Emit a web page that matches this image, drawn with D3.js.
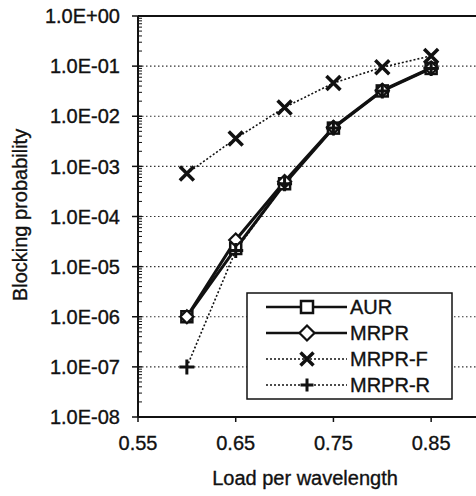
<!DOCTYPE html>
<html lang="en">
<head>
    <meta charset="UTF-8">
    <title>Blocking probability vs load</title>
    <script src="https://cdnjs.cloudflare.com/ajax/libs/d3/7.8.5/d3.min.js"></script>
    <style>
        body { margin: 0; background: #fff; }
        text { font-family: "Liberation Sans", Arial, sans-serif; fill: #111; stroke: #111; stroke-width: 0.35px; }
        .grid { stroke: #333; stroke-width: 1.2px; stroke-dasharray: 1.5,2.5; }
        .axis { stroke: #111; stroke-width: 2px; }
    </style>
</head>
<body>
    <svg width="476" height="496"></svg>
    <script>
        // data
        const loads = [0.6, 0.65, 0.7, 0.75, 0.8, 0.85];
        const aur   = [1.0e-6, 2.3e-5, 4.5e-4, 5.8e-3, 3.2e-2, 9.0e-2];
        const mrpr  = [1.0e-6, 3.4e-5, 5.0e-4, 6.0e-3, 3.3e-2, 9.2e-2];
        const mrprF = [7.2e-4, 3.6e-3, 1.5e-2, 4.6e-2, 9.5e-2, 1.6e-1];
        const mrprR = [1.0e-7, 2.1e-5, 4.5e-4, 5.8e-3, 3.2e-2, 9.0e-2];
        const seriesNames = ["AUR", "MRPR", "MRPR-F", "MRPR-R"];
        const xTicks = [0.55, 0.65, 0.75, 0.85];
        const yTicks = [1, 1e-1, 1e-2, 1e-3, 1e-4, 1e-5, 1e-6, 1e-7, 1e-8];
        const yTickLabels = ["1.0E+00", "1.0E-01", "1.0E-02", "1.0E-03", "1.0E-04",
                             "1.0E-05", "1.0E-06", "1.0E-07", "1.0E-08"];

        const svg = d3.select("svg");
        const plotLeft = 138, plotTop = 16, plotBottom = 417;

        const x = d3.scaleLinear().domain([0.55, 0.9]).range([plotLeft, 480]);
        const y = d3.scaleLog().domain([1e-8, 1]).range([plotBottom, plotTop]);

        // dotted gridlines at each decade
        svg.selectAll(".grid")
            .data(yTicks.slice(1, -1))
            .enter().append("line")
            .attr("class", "grid")
            .attr("x1", plotLeft).attr("x2", 476)
            .attr("y1", d => y(d)).attr("y2", d => y(d));

        // minor log ticks inside the left axis
        const minor = [];
        for (let e = -8; e < 0; e++) {
            for (let m = 2; m <= 9; m++) minor.push(m * Math.pow(10, e));
        }
        svg.selectAll(".minor")
            .data(minor)
            .enter().append("line")
            .attr("stroke", "#111").attr("stroke-width", 1)
            .attr("x1", plotLeft).attr("x2", plotLeft + 4)
            .attr("y1", d => y(d)).attr("y2", d => y(d));

        // major y ticks + labels
        svg.selectAll(".ymaj")
            .data(yTicks)
            .enter().append("line")
            .attr("stroke", "#111").attr("stroke-width", 1.5)
            .attr("x1", plotLeft - 6).attr("x2", plotLeft + 4)
            .attr("y1", d => y(d)).attr("y2", d => y(d));
        svg.selectAll(".ylab")
            .data(yTicks)
            .enter().append("text")
            .attr("x", 120)
            .attr("y", d => y(d))
            .attr("dy", "0.36em")
            .attr("text-anchor", "end")
            .style("font-size", "20px")
            .text((d, i) => yTickLabels[i]);

        // x ticks + labels
        svg.selectAll(".xt")
            .data(xTicks)
            .enter().append("line")
            .attr("stroke", "#111").attr("stroke-width", 1.5)
            .attr("x1", d => x(d)).attr("x2", d => x(d))
            .attr("y1", plotBottom).attr("y2", plotBottom + 5);
        svg.selectAll(".xlab")
            .data(xTicks)
            .enter().append("text")
            .attr("x", d => x(d))
            .attr("y", 450)
            .attr("text-anchor", "middle")
            .style("font-size", "20px")
            .text(d => d.toFixed(2));

        // axes frame
        svg.append("line").attr("class", "axis")
            .attr("x1", plotLeft).attr("x2", plotLeft).attr("y1", plotTop).attr("y2", plotBottom);
        svg.append("line").attr("class", "axis")
            .attr("x1", plotLeft).attr("x2", 476).attr("y1", plotBottom).attr("y2", plotBottom);
        svg.append("line").attr("class", "axis")
            .attr("x1", plotLeft).attr("x2", 476).attr("y1", plotTop).attr("y2", plotTop);

        // axis titles
        svg.append("text")
            .attr("x", 305).attr("y", 485)
            .attr("text-anchor", "middle")
            .style("font-size", "20px")
            .text("Load per wavelength");
        svg.append("text")
            .attr("transform", "translate(27,215) rotate(-90)")
            .attr("text-anchor", "middle")
            .style("font-size", "20px")
            .text("Blocking probability");

        // series
        const styles = [
            { vals: aur,   width: 3,   dash: null,  marker: "square" },
            { vals: mrpr,  width: 3,   dash: null,  marker: "diamond" },
            { vals: mrprF, width: 1.6, dash: "2,2", marker: "x" },
            { vals: mrprR, width: 1.6, dash: "2,2", marker: "plus" }
        ];

        const line = d3.line().x(d => x(d[0])).y(d => y(d[1]));

        function drawMarker(g, type, cx, cy, s) {
            if (type === "square") {
                g.append("rect")
                    .attr("x", cx - s / 2).attr("y", cy - s / 2)
                    .attr("width", s).attr("height", s)
                    .attr("fill", "#fff").attr("stroke", "#111").attr("stroke-width", 2.5);
            } else if (type === "diamond") {
                const r = s / 2 + 1;
                g.append("path")
                    .attr("d", `M${cx},${cy - r}L${cx + r},${cy}L${cx},${cy + r}L${cx - r},${cy}Z`)
                    .attr("fill", "#fff").attr("stroke", "#111").attr("stroke-width", 2.2);
            } else if (type === "x") {
                const r = s / 2;
                g.append("path")
                    .attr("d", `M${cx - r},${cy - r}L${cx + r},${cy + r}M${cx - r},${cy + r}L${cx + r},${cy - r}`)
                    .attr("stroke", "#111").attr("stroke-width", 3.5);
            } else {
                const r = s / 2;
                g.append("path")
                    .attr("d", `M${cx - r},${cy}L${cx + r},${cy}M${cx},${cy - r}L${cx},${cy + r}`)
                    .attr("stroke", "#111").attr("stroke-width", 3);
            }
        }

        const markerSize = { square: 11, diamond: 11, x: 14, plus: 15 };

        const plot = svg.append("g");
        styles.forEach(st => {
            const pts = loads.map((l, i) => [l, st.vals[i]]);
            plot.append("path")
                .attr("d", line(pts))
                .attr("fill", "none")
                .attr("stroke", "#111")
                .attr("stroke-width", st.width)
                .attr("stroke-dasharray", st.dash);
        });
        styles.forEach(st => {
            loads.forEach((l, i) => {
                drawMarker(plot, st.marker, x(l), y(st.vals[i]), markerSize[st.marker]);
            });
        });

        // legend
        const lg = svg.append("g");
        lg.append("rect")
            .attr("x", 247).attr("y", 293).attr("width", 205).attr("height", 106)
            .attr("fill", "#fff").attr("stroke", "#111").attr("stroke-width", 1.5);
        seriesNames.forEach((name, i) => {
            const st = styles[i];
            const ly = 307 + i * 26;
            lg.append("line")
                .attr("x1", 266).attr("x2", 347).attr("y1", ly).attr("y2", ly)
                .attr("stroke", "#111")
                .attr("stroke-width", st.dash ? 1.3 : 2.5)
                .attr("stroke-dasharray", st.dash);
            drawMarker(lg, st.marker, 307, ly, st.marker === "square" ? 12 : 13);
            lg.append("text")
                .attr("x", 350).attr("y", ly)
                .attr("dy", "0.36em")
                .style("font-size", "20px")
                .text(name);
        });
    </script>
</body>
</html>
